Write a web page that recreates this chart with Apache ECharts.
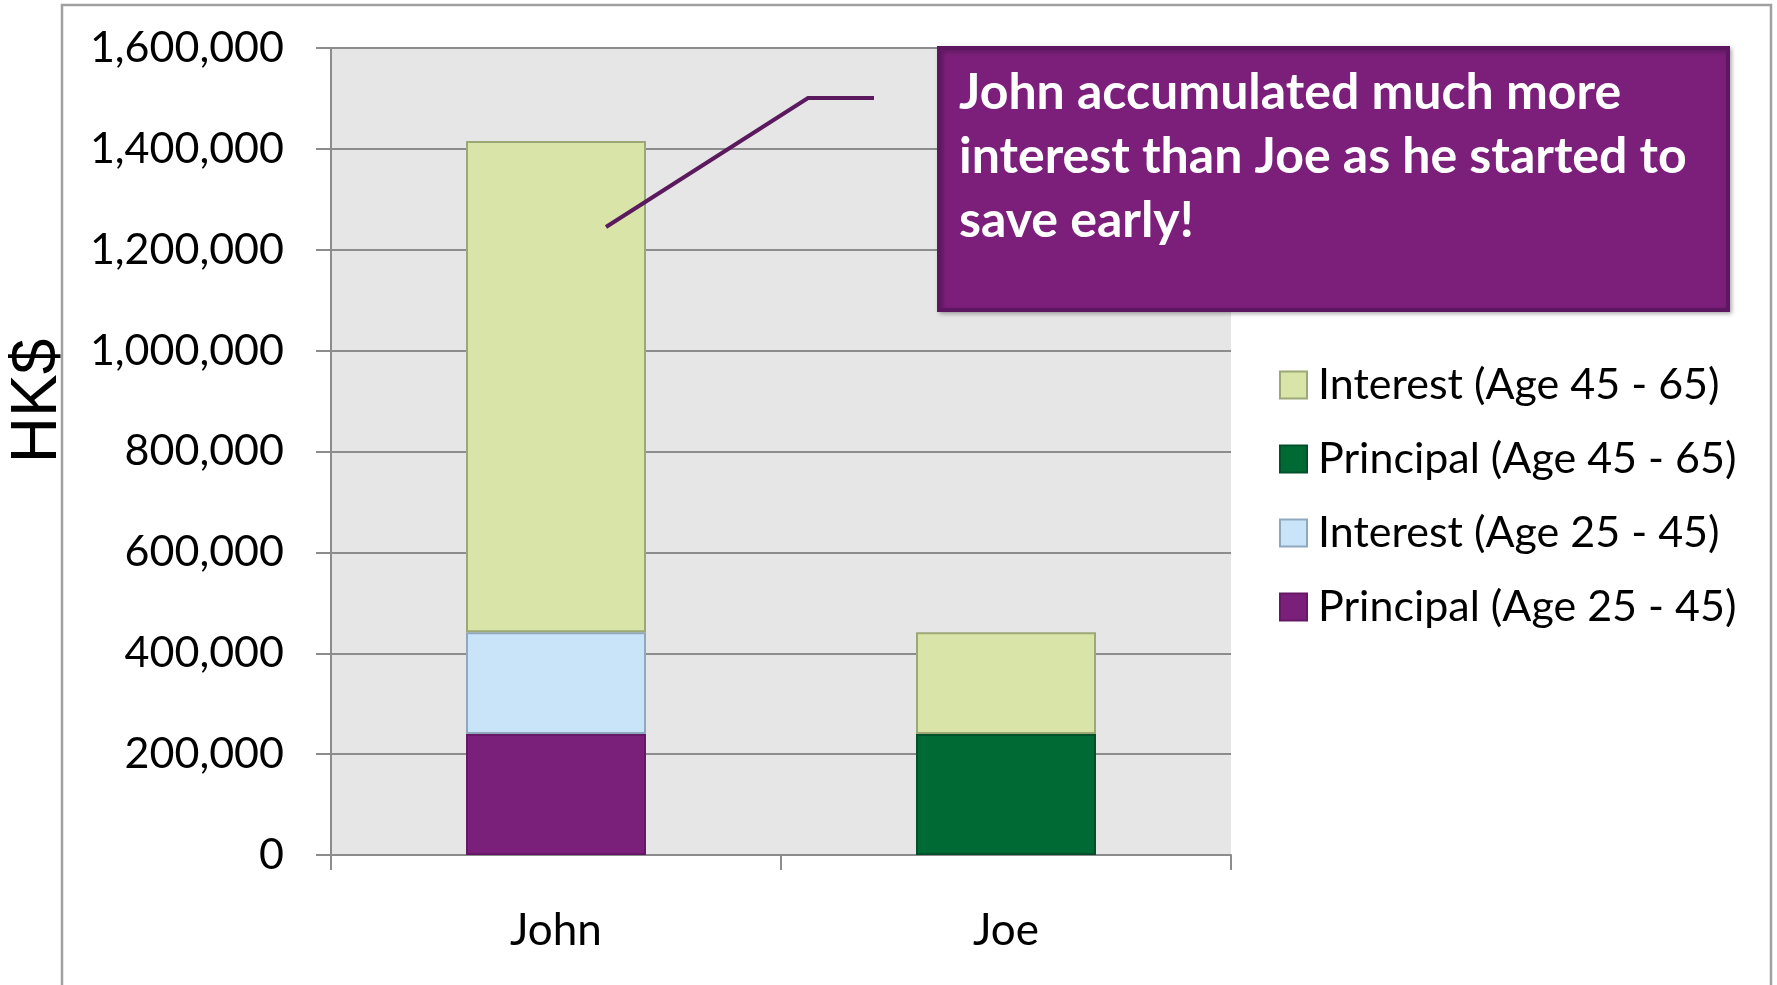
<!DOCTYPE html>
<html>
<head>
<meta charset="utf-8">
<title>Savings comparison</title>
<script src="https://cdn.jsdelivr.net/npm/echarts@6/dist/echarts.min.js"></script>
<style>
  html, body { margin: 0; padding: 0; background: #ffffff; }
  #chart { width: 1777px; height: 985px; }
</style>
</head>
<body>
<div id="chart"></div>
<script>
// Savers compared
const categories = ['John', 'Joe'];

// Stacked amounts in HK$ per saver (null = no segment)
const principal2545 = [240000, null];
const interest2545 = [201400, null];
const principal4565 = [null, 240000];
const interest4565 = [974300, 201400];

// Series names, in legend order (top to bottom)
const legendOrder = [
  'Interest (Age 45 - 65)',
  'Principal (Age 45 - 65)',
  'Interest (Age 25 - 45)',
  'Principal (Age 25 - 45)'
];

// Value axis range
const yMin = 0;
const yMax = 1600000;
const yStep = 200000;

const axisTitle = 'HK$';
const calloutText = 'John accumulated much more\ninterest than Joe as he started to\nsave early!';

const FONT = 'Lato, "Open Sans", sans-serif';

function segment(name, data, fill, border) {
  return {
    name: name,
    type: 'bar',
    stack: 'total',
    barWidth: '40%',
    data: data,
    itemStyle: { color: fill, borderColor: border, borderWidth: 2 },
    emphasis: { disabled: true }
  };
}

const chart = echarts.init(document.getElementById('chart'), null, { renderer: 'canvas' });

chart.setOption({
  animation: false,
  backgroundColor: '#ffffff',
  grid: {
    left: 331, top: 48, width: 900, height: 807,
    containLabel: false,
    outerBoundsMode: 'none',
    show: true, backgroundColor: '#e6e6e6', borderWidth: 0
  },
  legend: {
    orient: 'vertical',
    left: 1279,
    top: 360,
    padding: 0,
    itemWidth: 27,
    itemHeight: 27,
    itemGap: 24,
    icon: 'rect',
    data: legendOrder,
    selectedMode: false,
    textStyle: {
      fontFamily: FONT, fontSize: 43, color: '#000000',
      lineHeight: 50, padding: [0, 0, 0, 6]
    }
  },
  xAxis: {
    type: 'category',
    data: categories,
    axisLine: { show: true, lineStyle: { color: '#8c8c8c', width: 2 } },
    axisTick: { show: true, length: 15, lineStyle: { color: '#8c8c8c', width: 2 } },
    axisLabel: { fontFamily: FONT, fontSize: 44, color: '#000000', margin: 54 }
  },
  yAxis: {
    type: 'value',
    min: yMin, max: yMax, interval: yStep,
    axisLine: { show: true, lineStyle: { color: '#8c8c8c', width: 2 } },
    axisTick: { show: true, length: 15, lineStyle: { color: '#8c8c8c', width: 2 } },
    splitLine: { show: true, lineStyle: { color: '#8c8c8c', width: 2 } },
    axisLabel: {
      fontFamily: FONT, fontSize: 43, color: '#000000', margin: 47,
      formatter: v => v.toLocaleString('en-US')
    }
  },
  series: [
    segment('Principal (Age 25 - 45)', principal2545, '#7a1f7a', '#661866'),
    segment('Interest (Age 25 - 45)', interest2545, '#c9e4f8', '#8fa8be'),
    segment('Principal (Age 45 - 65)', principal4565, '#006a35', '#00502a'),
    segment('Interest (Age 45 - 65)', interest4565, '#d9e4a9', '#9ca876')
  ],
  graphic: [
    // outer chart frame
    {
      type: 'rect', silent: true, z: 0,
      shape: { x: 62, y: 5, width: 1709, height: 1000 },
      style: { fill: 'none', stroke: '#a0a0a0', lineWidth: 2.5 }
    },
    // value axis title, reading bottom to top
    {
      type: 'text', silent: true, z: 5,
      x: 38, y: 401, rotation: Math.PI / 2,
      style: {
        text: axisTitle,
        fill: '#000000',
        font: '64px "Liberation Sans", Arial, sans-serif',
        align: 'center',
        verticalAlign: 'middle'
      }
    },
    // callout leader line
    {
      type: 'polyline', silent: true, z: 10,
      shape: { points: [[606, 227], [808, 98], [874, 98]] },
      style: { fill: 'none', stroke: '#5c1a5e', lineWidth: 4 }
    },
    // callout box
    {
      type: 'rect', silent: true, z: 10,
      shape: { x: 939, y: 48, width: 789, height: 262 },
      style: {
        fill: '#7b1f7b', stroke: '#5c1760', lineWidth: 4,
        shadowBlur: 4, shadowOffsetX: 2, shadowOffsetY: 2, shadowColor: 'rgba(0,0,0,0.25)'
      }
    },
    {
      type: 'text', silent: true, z: 11,
      x: 959, y: 61,
      style: {
        text: calloutText,
        fill: '#ffffff',
        font: 'bold 50px ' + FONT,
        lineHeight: 64,
        verticalAlign: 'top'
      }
    }
  ]
});
</script>
</body>
</html>
